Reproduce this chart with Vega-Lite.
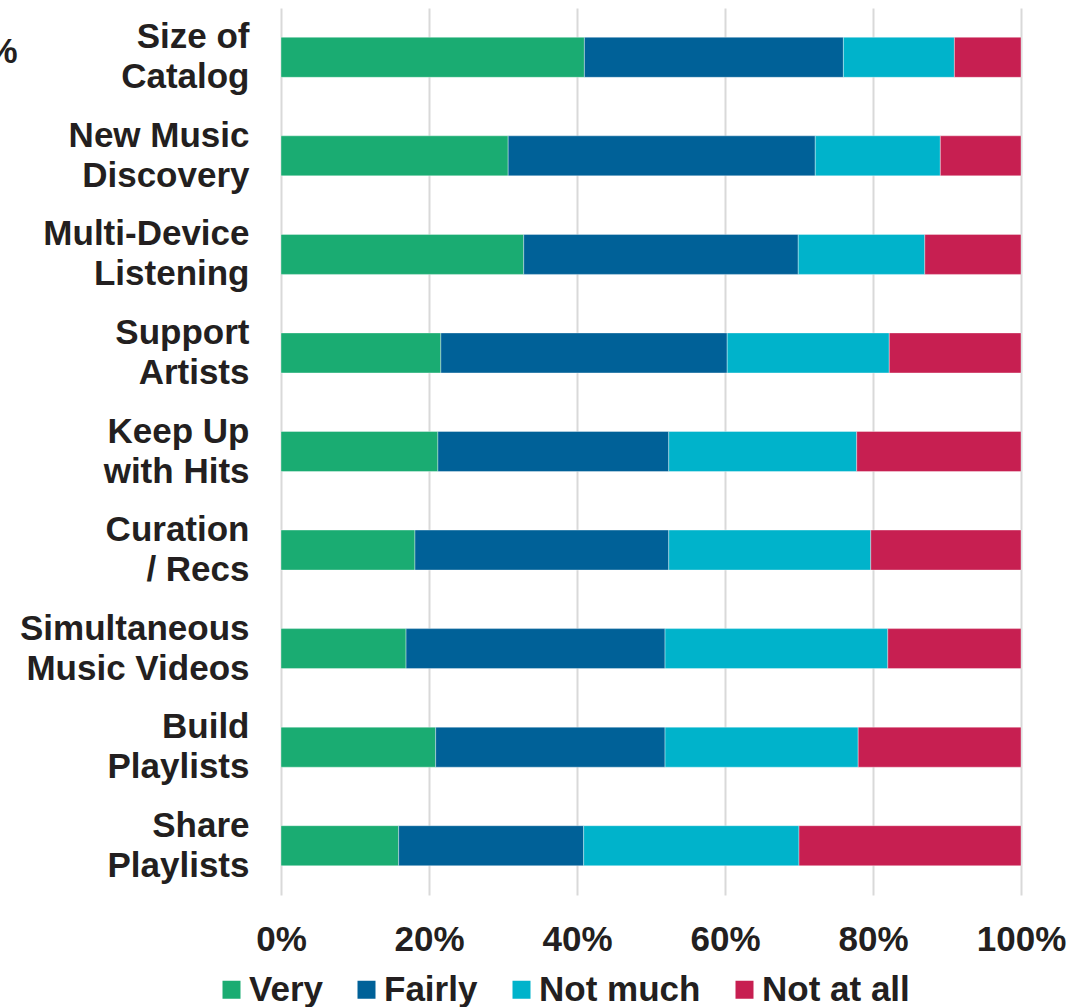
{
  "$schema": "https://vega.github.io/schema/vega-lite/v6.json",
  "width": 740,
  "height": 887,
  "autosize": {"type": "none"},
  "padding": {"left": 281, "top": 8, "right": 68, "bottom": 112},
  "background": "#ffffff",
  "config": {
    "view": {"stroke": null},
    "font": "Liberation Sans"
  },
  "data": {
    "values": [
      {"feature": "Size of|Catalog", "response": "Very", "pct": 41},
      {"feature": "Size of|Catalog", "response": "Fairly", "pct": 35},
      {"feature": "Size of|Catalog", "response": "Not much", "pct": 15},
      {"feature": "Size of|Catalog", "response": "Not at all", "pct": 9},
      {"feature": "New Music|Discovery", "response": "Very", "pct": 30.7},
      {"feature": "New Music|Discovery", "response": "Fairly", "pct": 41.5},
      {"feature": "New Music|Discovery", "response": "Not much", "pct": 16.9},
      {"feature": "New Music|Discovery", "response": "Not at all", "pct": 10.9},
      {"feature": "Multi-Device|Listening", "response": "Very", "pct": 32.8},
      {"feature": "Multi-Device|Listening", "response": "Fairly", "pct": 37.1},
      {"feature": "Multi-Device|Listening", "response": "Not much", "pct": 17.1},
      {"feature": "Multi-Device|Listening", "response": "Not at all", "pct": 13},
      {"feature": "Support|Artists", "response": "Very", "pct": 21.6},
      {"feature": "Support|Artists", "response": "Fairly", "pct": 38.7},
      {"feature": "Support|Artists", "response": "Not much", "pct": 21.9},
      {"feature": "Support|Artists", "response": "Not at all", "pct": 17.8},
      {"feature": "Keep Up|with Hits", "response": "Very", "pct": 21.2},
      {"feature": "Keep Up|with Hits", "response": "Fairly", "pct": 31.2},
      {"feature": "Keep Up|with Hits", "response": "Not much", "pct": 25.4},
      {"feature": "Keep Up|with Hits", "response": "Not at all", "pct": 22.2},
      {"feature": "Curation|/ Recs", "response": "Very", "pct": 18.1},
      {"feature": "Curation|/ Recs", "response": "Fairly", "pct": 34.3},
      {"feature": "Curation|/ Recs", "response": "Not much", "pct": 27.3},
      {"feature": "Curation|/ Recs", "response": "Not at all", "pct": 20.3},
      {"feature": "Simultaneous|Music Videos", "response": "Very", "pct": 16.9},
      {"feature": "Simultaneous|Music Videos", "response": "Fairly", "pct": 35},
      {"feature": "Simultaneous|Music Videos", "response": "Not much", "pct": 30.1},
      {"feature": "Simultaneous|Music Videos", "response": "Not at all", "pct": 18},
      {"feature": "Build|Playlists", "response": "Very", "pct": 20.9},
      {"feature": "Build|Playlists", "response": "Fairly", "pct": 31},
      {"feature": "Build|Playlists", "response": "Not much", "pct": 26.1},
      {"feature": "Build|Playlists", "response": "Not at all", "pct": 22},
      {"feature": "Share|Playlists", "response": "Very", "pct": 15.9},
      {"feature": "Share|Playlists", "response": "Fairly", "pct": 25},
      {"feature": "Share|Playlists", "response": "Not much", "pct": 29.1},
      {"feature": "Share|Playlists", "response": "Not at all", "pct": 30}
    ]
  },
  "transform": [
    {"calculate": "indexof(['Very', 'Fairly', 'Not much', 'Not at all'], datum.response)", "as": "rank"}
  ],
  "mark": {"type": "bar", "stroke": "#ffffff", "strokeWidth": 0.6, "strokeOpacity": 0.6},
  "encoding": {
    "y": {
      "field": "feature",
      "type": "nominal",
      "sort": null,
      "scale": {"paddingInner": 0.594, "paddingOuter": 0.297},
      "axis": {
        "title": "%",
        "titleAngle": 0,
        "titleAlign": "left",
        "titleBaseline": "middle",
        "titleX": -295,
        "titleY": 43,
        "titleFont": "Liberation Sans",
        "titleFontSize": 35,
        "titleFontWeight": "bold",
        "titleColor": "#231f20",
        "labelExpr": "split(datum.label, '|')",
        "labelFont": "Liberation Sans",
        "labelFontSize": 35,
        "labelFontWeight": "bold",
        "labelColor": "#231f20",
        "labelLineHeight": 40,
        "labelAlign": "right",
        "labelBaseline": "middle",
        "labelPadding": 32,
        "labelOffset": -20,
        "labelLimit": 400,
        "domain": false,
        "ticks": false,
        "grid": false,
        "encode": {
          "labels": {
            "align": {"value": "center"},
            "x": {"value": {"expr": "datum.value === 'Size of|Catalog' ? -95 : datum.value === 'New Music|Discovery' ? -121 : datum.value === 'Multi-Device|Listening' ? -134 : datum.value === 'Support|Artists' ? -99 : datum.value === 'Keep Up|with Hits' ? -104 : datum.value === 'Curation|/ Recs' ? -103 : datum.value === 'Simultaneous|Music Videos' ? -146 : -102"}}
          }
        }
      }
    },
    "x": {
      "field": "pct",
      "type": "quantitative",
      "stack": "normalize",
      "scale": {"domain": [0, 1], "nice": false},
      "axis": {
        "title": null,
        "values": [0, 0.2, 0.4, 0.6, 0.8, 1],
        "format": ".0%",
        "labelFont": "Liberation Sans",
        "labelFontSize": 35,
        "labelFontWeight": "bold",
        "labelColor": "#231f20",
        "labelPadding": 27,
        "labelFlush": false,
        "domain": false,
        "ticks": false,
        "grid": true,
        "gridColor": "#d9d9d9",
        "gridWidth": 2
      }
    },
    "order": {"field": "rank", "type": "quantitative"},
    "color": {
      "field": "response",
      "type": "nominal",
      "sort": ["Very", "Fairly", "Not much", "Not at all"],
      "scale": {
        "domain": ["Very", "Fairly", "Not much", "Not at all"],
        "range": ["#1aac72", "#006198", "#00b3cb", "#c71f51"]
      },
      "legend": {
        "title": null,
        "orient": "none",
        "direction": "horizontal",
        "legendX": -67,
        "legendY": 964,
        "padding": 0,
        "symbolType": "square",
        "symbolSize": 324,
        "symbolStrokeWidth": 0,
        "symbolOpacity": 1,
        "labelFont": "Liberation Sans",
        "labelFontSize": 35,
        "labelFontWeight": "bold",
        "labelColor": "#231f20",
        "labelOffset": 0,
        "labelLimit": 300,
        "columnPadding": 26
      }
    }
  }
}
